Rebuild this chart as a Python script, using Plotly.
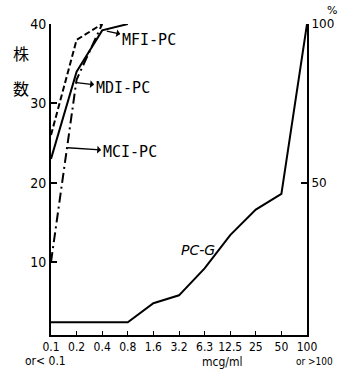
import plotly.graph_objects as go

# ---- data ----
conc_labels = ["0.1", "0.2", "0.4", "0.8", "1.6", "3.2", "6.3", "12.5", "25", "50", "100"]
mfi_pc = [23, 34, 39.2, 40]          # 株数 (left axis)
mdi_pc = [26, 38, 40]
mci_pc = [10, 33, 40]
pcg_pct = [6, 6, 6, 6, 12, 14.5, 23, 33.5, 41.5, 46.5, 100]   # % (right axis)
left_ticks = [10, 20, 30, 40]
right_ticks = [50, 100]

W, H = 346, 370
L, R, T, B = 51, 313, 24, 335   # plot area in pixels


def px(x):
    return (x - L) / (R - L)


def py(y):
    return (B - y) / (B - T)


idx = list(range(len(conc_labels)))
TICKFONT = dict(family="DejaVu Sans Condensed, Liberation Sans Narrow, DejaVu Sans", size=12, color="black")
LBLFONT = dict(family="DejaVu Sans Mono, Liberation Mono, monospace", size=15, color="black")

fig = go.Figure()
fig.add_trace(go.Scatter(x=idx[:len(mfi_pc)], y=mfi_pc, mode="lines",
                         line=dict(color="black", width=2), name="MFI-PC"))
fig.add_trace(go.Scatter(x=idx[:len(mdi_pc)], y=mdi_pc, mode="lines",
                         line=dict(color="black", width=2, dash="6px,3px"), name="MDI-PC"))
fig.add_trace(go.Scatter(x=idx[:len(mci_pc)], y=mci_pc, mode="lines",
                         line=dict(color="black", width=2, dash="10px,4px,2px,4px"), name="MCI-PC"))
fig.add_trace(go.Scatter(x=idx, y=pcg_pct, mode="lines", yaxis="y2",
                         line=dict(color="black", width=2), name="PC-G"))

ymin_left = 0.8
fig.update_layout(
    width=W, height=H,
    margin=dict(l=L, r=W - R, t=T, b=H - B, pad=0),
    paper_bgcolor="white", plot_bgcolor="white",
    showlegend=False,
    xaxis=dict(range=[0, len(conc_labels) - 1], tickvals=idx, ticktext=conc_labels,
               ticks="inside", ticklen=4, tickwidth=1, tickcolor="black",
               showline=True, linewidth=2, linecolor="black",
               showgrid=False, zeroline=False, tickfont=TICKFONT),
    yaxis=dict(range=[ymin_left, 40], tickvals=left_ticks,
               ticks="inside", ticklen=6, tickwidth=1.5, tickcolor="black",
               showline=True, linewidth=2, linecolor="black",
               showgrid=False, zeroline=False, tickfont=dict(TICKFONT, size=14)),
    yaxis2=dict(range=[ymin_left * 2.5, 100], tickvals=right_ticks, overlaying="y", side="right",
                ticks="inside", ticklen=6, tickwidth=1.5, tickcolor="black",
                showline=True, linewidth=2, linecolor="black",
                showgrid=False, zeroline=False,
                tickfont=dict(family="DejaVu Sans, Liberation Sans", size=12, color="black")),
)

# series labels with leader lines (arrowhead at the text side)
def leader(text, xd, yd, ax, ay, yref="y"):
    fig.add_annotation(x=xd, y=yd, xref="x", yref=yref, text=text, showarrow=True,
                       ax=ax, ay=ay, arrowside="start", arrowhead=2, arrowsize=0.9,
                       arrowwidth=1.3, arrowcolor="black", font=LBLFONT,
                       xanchor="center", yanchor="middle")

leader("MFI-PC", 2.18, 39.1, 42, 9)
leader("MDI-PC", 1.0, 32.6, 46, 5)
leader("MCI-PC", 0.65, 24.4, 62, 4)

fig.add_annotation(x=5.76, y=11.5, xref="x", yref="y", text="<i>PC-G</i>", showarrow=False,
                   xanchor="center", yanchor="middle",
                   font=dict(family="DejaVu Sans, Liberation Sans", size=14, color="black"))


def ptext(text, x, y, font):
    fig.add_annotation(x=px(x), y=py(y), xref="paper", yref="paper", text=text, showarrow=False,
                       xanchor="center", yanchor="middle", font=font)


# axis titles / extra text
ptext("株", 20, 53, dict(family="Noto Sans CJK JP", size=16, color="black"))
ptext("数", 20, 88, dict(family="Noto Sans CJK JP", size=16, color="black"))
ptext("%", 339, 10, dict(family="DejaVu Sans", size=11, color="black"))
ptext("or&lt; 0.1", 45, 361, dict(TICKFONT, size=12))
ptext("or &gt;100", 321, 361, dict(TICKFONT, size=10))
ptext("mcg/ml", 226, 362, dict(TICKFONT, size=12))

fig.write_html("out.html")
